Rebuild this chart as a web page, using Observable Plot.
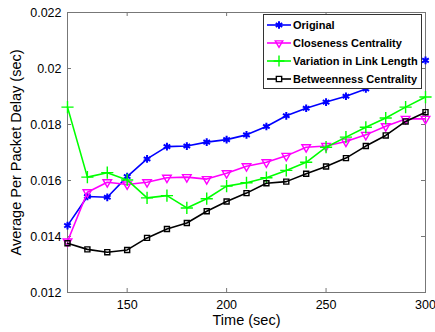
<!DOCTYPE html>
<html><head><meta charset="utf-8">
<script src="https://cdn.jsdelivr.net/npm/d3@7"></script>
<script src="https://cdn.jsdelivr.net/npm/@observablehq/plot@0.6"></script>
<style>
body{margin:0;background:#fff;font-family:"Liberation Sans",Arial,sans-serif;}
#wrap{position:relative;width:435px;height:332px;}
#legend{position:absolute;left:263px;top:14px;width:159px;height:75px;border:1px solid #333;background:#fff;box-sizing:border-box;padding-top:1px;}
.row{display:flex;align-items:center;height:18px;font-weight:bold;font-size:11px;color:#000;white-space:nowrap;}
.row svg{margin-left:3px;margin-right:2px;flex:none;}
</style></head><body>
<div id="wrap"><div id="chart"></div><div id="legend"></div></div>
<script>
const times = [120,130,140,150,160,170,180,190,200,210,220,230,240,250,260,270,280,290,300];
const original = [0.01439,0.01543,0.01540,0.01614,0.01677,0.01721,0.01723,0.01737,0.01746,0.01763,0.01793,0.01831,0.01858,0.01880,0.01901,0.01927,0.01960,0.01990,0.02029];
const closeness = [0.01382,0.01558,0.01594,0.01586,0.01594,0.01610,0.01612,0.01605,0.01626,0.01651,0.01665,0.01688,0.01719,0.01723,0.01739,0.01763,0.01794,0.01820,0.01820];
const linkVar = [0.01862,0.01612,0.01628,0.01602,0.01538,0.01546,0.01502,0.01535,0.01580,0.01592,0.01610,0.01636,0.01665,0.01719,0.01755,0.01790,0.01823,0.01862,0.01898];
const betweenness = [0.01376,0.01354,0.01344,0.01352,0.01395,0.01427,0.01448,0.01490,0.01525,0.01555,0.01590,0.01596,0.01624,0.01650,0.01680,0.01723,0.01761,0.01811,0.01844];
const seriesNames = ["Original","Closeness Centrality","Variation in Link Length","Betweenness Centrality"];
const seriesColors = ["#0000ff","#ff00ff","#00ff00","#000000"];
const seriesSymbols = ["asterisk","triangle","plus","square2"];
const seriesRotate = [0,180,0,0];
const xTicks = [150,200,250,300];
const yTicks = [0.012,0.014,0.016,0.018,0.02,0.022];
const yTickLabels = ["0.012","0.014","0.016","0.018","0.02","0.022"];

const allSeries = [original, closeness, linkVar, betweenness];
const data = [];
allSeries.forEach((vals, s) => vals.forEach((v, i) => data.push({t: times[i], v, s: seriesNames[s]})));

const xDom = [120,300], yDom = [0.012,0.022];
const tickLenY = (yDom[1]-yDom[0]) * 4/280;
const tickLenX = (xDom[1]-xDom[0]) * 4/358;
const markerR = [3.6, 3.2, 4, 3.2];

const marks = [
  Plot.frame({stroke:"#777", strokeWidth:1}),
  Plot.ruleX(xTicks, {x:d=>d, y1:yDom[0], y2:yDom[0]+tickLenY, stroke:"#777"}),
  Plot.ruleX(xTicks, {x:d=>d, y1:yDom[1], y2:yDom[1]-tickLenY, stroke:"#777"}),
  Plot.ruleY(yTicks, {y:d=>d, x1:xDom[0], x2:xDom[0]+tickLenX, stroke:"#777"}),
  Plot.ruleY(yTicks, {y:d=>d, x1:xDom[1], x2:xDom[1]-tickLenX, stroke:"#777"}),
  Plot.axisX({ticks:xTicks, tickSize:0, tickPadding:8, fontSize:12.5, label:null, tickFormat:d=>String(d)}),
  Plot.axisY({ticks:yTicks, tickSize:0, tickPadding:6, fontSize:12.5, label:null, tickFormat:(d,i)=>yTickLabels[i]}),
  Plot.text(["Time (sec)"], {frameAnchor:"bottom", dy:32, fontSize:14.5, fill:"#000"}),
  Plot.text(["Average Per Packet Delay (sec)"], {frameAnchor:"left", textAnchor:"middle", dx:-51, rotate:-90, fontSize:14.5, fill:"#000"})
];
seriesNames.forEach((name, s) => {
  const d = data.filter(r => r.s === name);
  marks.push(Plot.line(d, {x:"t", y:"v", stroke:seriesColors[s], strokeWidth:1.6}));
  marks.push(Plot.dot(d, {x:"t", y:"v", symbol:()=>seriesSymbols[s], stroke:seriesColors[s], fill: s===0 ? seriesColors[s] : "none", strokeWidth: s===0 ? 2 : 1.4, r: markerR[s], rotate: seriesRotate[s]}));
});

const chart = Plot.plot({
  width:435, height:332,
  marginLeft:67, marginRight:10, marginTop:12, marginBottom:40,
  style:{fontFamily:"Liberation Sans, Arial, sans-serif", color:"#000", background:"#fff"},
  x:{domain:xDom, axis:null},
  y:{domain:yDom, axis:null},
  symbol:{type:"identity"},
  marks
});
document.getElementById("chart").append(chart);

const legend = document.getElementById("legend");
const symMap = {asterisk:d3.symbolAsterisk, triangle:d3.symbolTriangle2, plus:d3.symbolPlus, square2:d3.symbolSquare2};
seriesNames.forEach((name, s) => {
  const row = document.createElement("div");
  row.className = "row";
  const ns = "http://www.w3.org/2000/svg";
  const svg = document.createElementNS(ns, "svg");
  svg.setAttribute("width", 24); svg.setAttribute("height", 12);
  const line = document.createElementNS(ns, "line");
  line.setAttribute("x1", 0); line.setAttribute("x2", 24); line.setAttribute("y1", 6); line.setAttribute("y2", 6);
  line.setAttribute("stroke", seriesColors[s]); line.setAttribute("stroke-width", 1.6);
  svg.append(line);
  const p = document.createElementNS(ns, "path");
  p.setAttribute("d", d3.symbol(symMap[seriesSymbols[s]], s===3 ? 36 : 40)());
  p.setAttribute("transform", `translate(12,6) rotate(${seriesRotate[s]})`);
  p.setAttribute("stroke", seriesColors[s]);
  p.setAttribute("fill", s===0 ? seriesColors[s] : (s===3 ? "#fff" : "none"));
  p.setAttribute("stroke-width", s===0 ? 2 : 1.4);
  svg.append(p);
  row.append(svg);
  const span = document.createElement("span");
  span.textContent = name;
  row.append(span);
  legend.append(row);
});
</script>
</body></html>
